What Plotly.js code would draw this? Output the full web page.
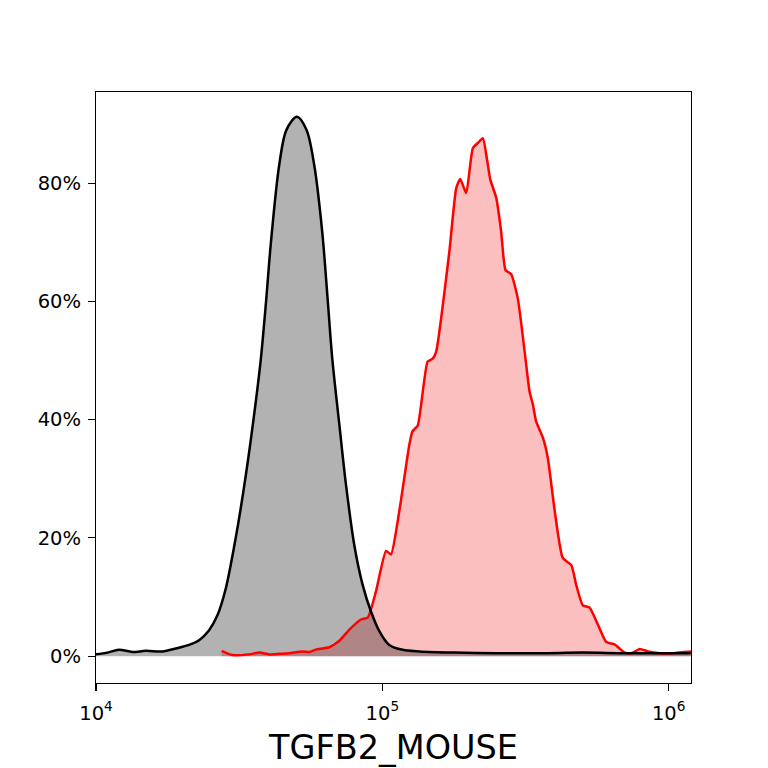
<!DOCTYPE html>
<html>
<head>
<meta charset="utf-8">
<script src="https://cdn.plot.ly/plotly-3.0.1.min.js"></script>
<style>html,body{margin:0;padding:0;background:#fff;}#chart{width:768px;height:768px;}</style>
</head>
<body>
<div id="chart"></div>
<script>
// Control (black) histogram: fluorescence intensity vs % of max
const controlX = [10000, 10970, 12020, 13400, 14930, 17060, 19010, 21140, 22910, 24830,
  26550, 28380, 30760, 33340, 36140, 37670, 39260, 40830, 43650, 46240,
  50350, 54330, 57810, 61660, 64270, 66830, 70800, 74650, 79800, 85310,
  91200, 97720, 105700, 117800, 134600, 177800, 251200, 354800, 501200, 708000,
  1000000, 1194000];
const controlY = [0.3, 0.6, 1.1, 0.7, 0.9, 0.8, 1.3, 1.9, 2.7, 4.4,
  6.9, 11.4, 20.0, 30.5, 43.0, 50.4, 60.0, 70.0, 83.1, 89.0,
  91.2, 89.0, 83.1, 71.8, 61.0, 50.4, 39.1, 29.0, 18.8, 12.1,
  7.6, 4.2, 1.9, 1.07, 0.8, 0.6, 0.5, 0.5, 0.6, 0.5,
  0.5, 0.5];

// Stained (red) histogram
const stainX = [27480, 29920, 34280, 37150, 40270, 43650, 47320, 52720, 55590, 58610,
  65310, 70790, 76740, 84330, 88920, 95060, 103000, 107200, 114600, 124200,
  127400, 133000, 143900, 150000, 154200, 171400, 181100, 187100, 196300, 207000,
  215800, 224400, 231700, 238200, 250000, 260000, 269200, 281800, 297200, 314100,
  326600, 335700, 344400, 363900, 378400, 398900, 426600, 457100, 475300, 501200,
  529700, 566200, 605300, 647100, 701500, 741300, 792500, 847200, 931100, 1037000,
  1125000, 1202000];
const stainY = [0.9, 0.2, 0.3, 0.6, 0.3, 0.4, 0.5, 0.8, 0.7, 1.1,
  1.5, 2.6, 4.5, 6.2, 6.5, 11.0, 17.8, 17.2, 24.5, 35.7,
  38.0, 39.0, 49.8, 50.3, 51.5, 68.4, 79.1, 80.7, 78.3, 85.9,
  86.8, 87.6, 84.2, 80.6, 77.5, 71.8, 65.3, 64.6, 60.5, 51.5,
  44.8, 42.5, 39.7, 36.9, 33.5, 25.0, 16.6, 15.4, 12.1, 8.6,
  8.2, 5.3, 2.4, 2.0, 0.6, 0.5, 1.2, 0.8, 0.5, 0.5,
  0.7, 0.8];

const xTickVals = [1e4, 1e5, 1e6];
const xTickText = ['10<sup>4</sup>', '10<sup>5</sup>', '10<sup>6</sup>'];
const yTickVals = [0, 20, 40, 60, 80];
const yTickText = ['0%', '20%', '40%', '60%', '80%'];
const xLabel = 'TGFB2_MOUSE';

const traces = [
  {x: stainX, y: stainY, type: 'scatter', mode: 'none', fill: 'tozeroy',
   fillcolor: 'rgba(240,0,0,0.25)', line: {shape: 'spline', smoothing: 0.5}, hoverinfo: 'skip'},
  {x: controlX, y: controlY, type: 'scatter', mode: 'none', fill: 'tozeroy',
   fillcolor: 'rgba(0,0,0,0.3)', line: {shape: 'spline', smoothing: 0.9}, hoverinfo: 'skip'},
  {x: stainX, y: stainY, type: 'scatter', mode: 'lines',
   line: {color: '#ff0000', width: 2.5, shape: 'spline', smoothing: 0.5}},
  {x: controlX, y: controlY, type: 'scatter', mode: 'lines',
   line: {color: '#000000', width: 2.5, shape: 'spline', smoothing: 0.9}}
];

const font = 'DejaVu Sans, sans-serif';
const layout = {
  width: 768, height: 768,
  margin: {l: 96, r: 77, t: 92, b: 84.5},
  paper_bgcolor: '#ffffff', plot_bgcolor: '#ffffff',
  showlegend: false,
  font: {family: font, color: '#000000', size: 19},
  xaxis: {
    type: 'log', range: [4, 6.078],
    tickmode: 'array', tickvals: xTickVals, ticktext: xTickText,
    ticks: 'outside', ticklen: 7, tickwidth: 1.1, tickcolor: '#000',
    ticklabelstandoff: 5,
    showline: true, linecolor: '#000', linewidth: 1.1, mirror: true,
    showgrid: false, zeroline: false,
    tickfont: {family: font, size: 19.5, color: '#000'},
    title: {text: xLabel, font: {family: font, size: 33.5, color: '#000'}, standoff: 12}
  },
  yaxis: {
    range: [-4.54, 95.4],
    tickmode: 'array', tickvals: yTickVals, ticktext: yTickText,
    ticks: 'outside', ticklen: 7, tickwidth: 1.1, tickcolor: '#000',
    ticklabelstandoff: 3,
    showline: true, linecolor: '#000', linewidth: 1.1, mirror: true,
    showgrid: false, zeroline: false,
    tickfont: {family: font, size: 19.5, color: '#000'}
  }
};

Plotly.newPlot('chart', traces, layout, {staticPlot: true, displayModeBar: false});
</script>
</body>
</html>
